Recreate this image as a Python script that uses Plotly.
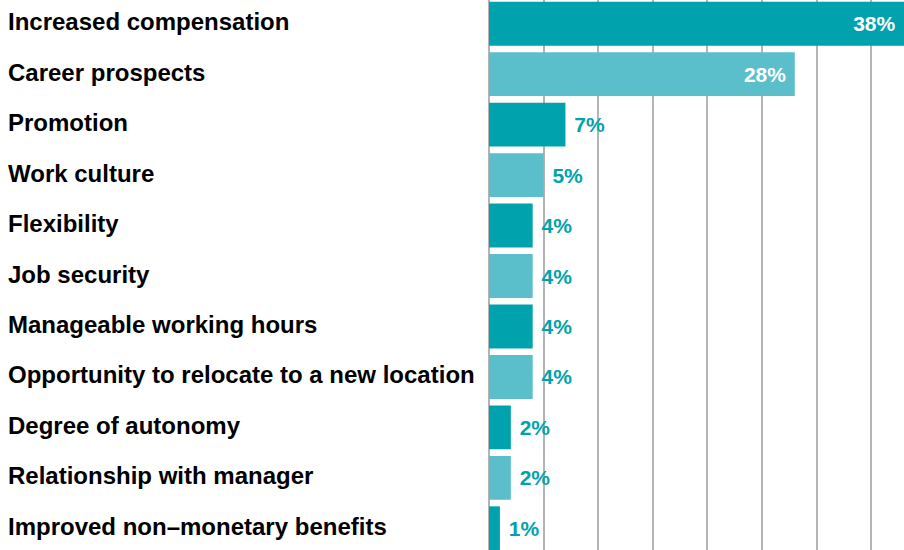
import plotly.graph_objects as go

categories = [
    "Increased compensation",
    "Career prospects",
    "Promotion",
    "Work culture",
    "Flexibility",
    "Job security",
    "Manageable working hours",
    "Opportunity to relocate to a new location",
    "Degree of autonomy",
    "Relationship with manager",
    "Improved non–monetary benefits",
]
values = [38, 28, 7, 5, 4, 4, 4, 4, 2, 2, 1]

DARK = "#00A3AD"
LIGHT = "#5ABFCA"
FONT = "Liberation Sans, Arial, sans-serif"

colors = [DARK if i % 2 == 0 else LIGHT for i in range(len(values))]
# big bars carry their label inside, small ones outside
positions = ["inside" if v >= 20 else "outside" for v in values]
texts = [f"<b>{v}% </b>" if v >= 20 else f"<b> {v}%</b>" for v in values]

fig = go.Figure(go.Bar(
    x=values,
    y=categories,
    orientation="h",
    marker=dict(color=colors, line=dict(width=0)),
    text=texts,
    textposition=positions,
    insidetextanchor="end",
    insidetextfont=dict(family=FONT, size=21, color="white"),
    outsidetextfont=dict(family=FONT, size=21, color=DARK),
    textfont=dict(family=FONT, size=21),
    cliponaxis=False,
    hoverinfo="skip",
))

# left-aligned category labels
for cat in categories:
    fig.add_annotation(
        x=(6 - 489) / 415, xref="paper", xanchor="left",
        y=cat, yref="y", yanchor="middle", yshift=2,
        text=f"<b>{cat}</b>", showarrow=False,
        font=dict(family=FONT, size=24, color="black"),
    )

fig.update_layout(
    width=904, height=550,
    margin=dict(l=489, r=0, t=0, b=0),
    plot_bgcolor="white", paper_bgcolor="white",
    bargap=0.13,
    showlegend=False,
)
fig.update_xaxes(
    range=[0, 38], dtick=5, showticklabels=False,
    showgrid=True, gridcolor="#B4B4B4", gridwidth=2,
    zeroline=True, zerolinecolor="#B4B4B4", zerolinewidth=2,
)
fig.update_yaxes(
    categoryorder="array", categoryarray=categories,
    range=[10.43, -0.47], showticklabels=False, showgrid=False,
)

fig.write_html(
    "out.html",
    config={"displayModeBar": False},
    post_script="document.body.style.margin='0';",
)
